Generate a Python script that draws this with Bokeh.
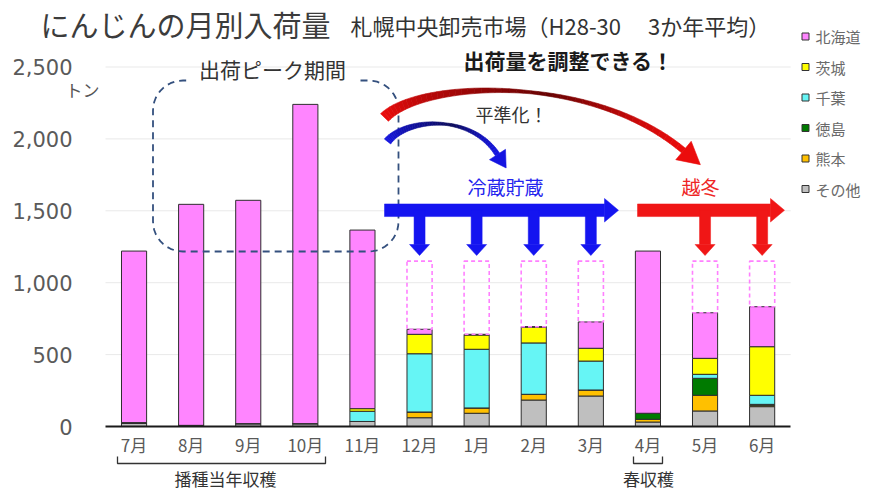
import numpy as np
from bokeh.plotting import figure
from bokeh.models import (Range1d, FixedTicker, NumeralTickFormatter, Label,
                          ColumnDataSource)
from bokeh.core.properties import value
from bokeh.embed import file_html
from bokeh.resources import INLINE

# ---------------- data (tons) ----------------
months = ["7月", "8月", "9月", "10月", "11月", "12月", "1月", "2月", "3月", "4月", "5月", "6月"]
sonota    = [22, 8, 20, 20, 35, 61, 92, 184, 212, 31, 108, 138]
kumamoto  = [0, 0, 0, 0, 0, 40, 37, 40, 42, 19, 109, 10]
tokushima = [5, 0, 0, 0, 0, 0, 0, 0, 0, 42, 118, 6]
chiba     = [0, 0, 0, 0, 71, 405, 408, 357, 201, 0, 28, 63]
ibaraki   = [0, 0, 0, 0, 18, 135, 99, 110, 89, 0, 111, 338]
hokkaido  = [1193, 1537, 1553, 2220, 1242, 35, 5, 3, 183, 1128, 317, 278]

series_names = ["その他", "熊本", "徳島", "千葉", "茨城", "北海道"]      # bottom -> top
series_colors = ["#BFBFBF", "#FFC000", "#007A00", "#66F5F5", "#FFFF00", "#FF85FF"]

storage_months = ["12月", "1月", "2月", "3月", "5月", "6月"]
storage_level = [1150, 1150, 1150, 1150, 1150, 1150]

y_ticks = [0, 500, 1000, 1500, 2000, 2500]

# ---------------- layout constants ----------------
W, H = 880, 493
FL, FB = 105, 426            # where the axes sit (px)
CAT_PX = 57.1                # px per month
TON_PX = 359.5 / 2500        # px per ton
JP = "Noto Sans CJK JP"


def dx(px):
    return (px - FL) / CAT_PX


def dy(py):
    return (FB - py) / TON_PX


def to_data(pts):
    pts = np.asarray(pts, float)
    return list(dx(pts[:, 0])), list(dy(pts[:, 1]))


xs = [i + 0.5 for i in range(len(months))]
pos = dict(zip(months, xs))
values = [sonota, kumamoto, tokushima, chiba, ibaraki, hokkaido]
src = ColumnDataSource(dict(x=xs, **{n: v for n, v in zip(series_names, values)}))
totals = [sum(c) for c in zip(*values)]

p = figure(width=W, height=H, title=None,
           x_range=Range1d(dx(0), dx(W)), y_range=Range1d(dy(H), dy(0)),
           output_backend="svg", toolbar_location=None,
           min_border=0, min_border_left=0, min_border_right=0,
           min_border_top=0, min_border_bottom=0)
p.outline_line_color = None
p.background_fill_color = "white"
p.border_fill_color = "white"
p.xgrid.visible = False
p.ygrid.visible = False

# faint gridlines
p.segment(x0=0, x1=len(months), y0=y_ticks[1:], y1=y_ticks[1:],
          line_color="#E9E9E9", line_width=1)

# axes (drawn at fixed data locations so the whole canvas is the plot frame)
p.xaxis.fixed_location = 0
p.xaxis.ticker = FixedTicker(ticks=xs)
p.xaxis.major_label_overrides = {x: m for x, m in zip(xs, months)}
p.xaxis.bounds = (0, len(months))
p.xaxis.axis_line_color = "#1a1a1a"
p.xaxis.axis_line_width = 2
p.xaxis.major_tick_line_color = None
p.xaxis.minor_tick_line_color = None
p.xaxis.major_tick_out = 0
p.xaxis.major_tick_in = 0
p.xaxis.minor_tick_out = 0
p.xaxis.major_label_text_font = JP
p.xaxis.major_label_text_font_size = "17px"
p.xaxis.major_label_text_color = "#595959"
p.xaxis.major_label_standoff = 5

p.yaxis.fixed_location = 0
p.yaxis.ticker = FixedTicker(ticks=y_ticks)
p.yaxis.formatter = NumeralTickFormatter(format="0,0")
p.yaxis.bounds = (0, 2500)
p.yaxis.axis_line_color = None
p.yaxis.major_tick_line_color = None
p.yaxis.minor_tick_line_color = None
p.yaxis.major_tick_out = 0
p.yaxis.major_tick_in = 0
p.yaxis.minor_tick_out = 0
p.yaxis.major_label_text_font = "DejaVu Sans"
p.yaxis.major_label_text_font_size = "21px"
p.yaxis.major_label_text_color = "#5a5a5a"
p.yaxis.major_label_standoff = 33

# stacked bars
p.vbar_stack(series_names, x="x", width=0.44, source=src,
             fill_color=series_colors, line_color="#2e2e2e", line_width=1)

# dashed "flattened" boxes
st_x = [pos[m] for m in storage_months]
st_bottom = [totals[months.index(m)] for m in storage_months]
p.vbar(x=st_x, bottom=st_bottom, top=storage_level, width=0.44,
       fill_color=None, line_color="#FF80FF", line_width=1.6, line_dash="4 3")

# ---------------- legend (right side) ----------------
leg_y0, leg_step = 36, 30.5
for k, (name, col) in enumerate(zip(series_names[::-1], series_colors[::-1])):
    py = leg_y0 + k * leg_step
    p.scatter(x=[dx(805)], y=[dy(py)], marker="square", size=7,
              fill_color=col, line_color="#333333", line_width=1)
    p.add_layout(Label(x=dx(815), y=dy(py), text=name, text_font=JP,
                       text_font_size="15px", text_color="#6a6a6a",
                       text_baseline="middle", text_align="left"))


# ---------------- titles & texts ----------------
def lab(px, py, text, size, color, align="center", style="normal"):
    p.add_layout(Label(x=dx(px), y=dy(py), text=text, text_font=JP,
                       text_font_size=size, text_color=color,
                       text_align=align, text_baseline="middle",
                       text_font_style=style))


lab(40, 23, "にんじんの月別入荷量", "29px", "#3c3c3c", align="left")
lab(350, 24, "札幌中央卸売市場（H28-30　 3か年平均）", "22px", "#333333", align="left")
lab(82, 89, "トン", "17px", "#555555")
lab(272, 68, "出荷ピーク期間", "21px", "#333333")
lab(568, 59, "出荷量を調整できる！", "21px", "#1a1a1a", style="bold")
lab(511, 113, "平準化！", "18px", "#333333")
lab(505, 186, "冷蔵貯蔵", "19px", "#2525EE")
lab(700, 186, "越冬", "19px", "#EE2525")
lab(225, 478, "播種当年収穫", "17px", "#333333")
lab(648, 478, "春収穫", "17px", "#333333")

# brackets below the axis
br_x, br_y = [], []
for (x0, x1) in [(117, 325), (633, 662)]:
    a, b = to_data([(x0, 456), (x0, 463), (x1, 463), (x1, 456)])
    br_x.append(a)
    br_y.append(b)
p.multi_line(br_x, br_y, line_color="#333333", line_width=1.3)


# ---------------- dashed rounded rectangle (peak period) ----------------
def rounded_path(l, r, t, b, rad, gap0, gap1, n=12):
    pts = [(gap1, t), (r - rad, t)]
    ang = np.linspace(-np.pi / 2, 0, n)
    pts += [(r - rad + rad * np.cos(a), t + rad + rad * np.sin(a)) for a in ang]
    pts += [(r, b - rad)]
    ang = np.linspace(0, np.pi / 2, n)
    pts += [(r - rad + rad * np.cos(a), b - rad + rad * np.sin(a)) for a in ang]
    pts += [(l + rad, b)]
    ang = np.linspace(np.pi / 2, np.pi, n)
    pts += [(l + rad + rad * np.cos(a), b - rad + rad * np.sin(a)) for a in ang]
    pts += [(l, t + rad)]
    ang = np.linspace(np.pi, 1.5 * np.pi, n)
    pts += [(l + rad + rad * np.cos(a), t + rad + rad * np.sin(a)) for a in ang]
    pts += [(gap0, t)]
    return pts


bx, by = to_data(rounded_path(152.5, 398, 80, 251, 30, 186, 360))
p.line(bx, by, line_color="#34507E", line_width=1.8, line_dash="7 5")


# ---------------- tapered gradient arcs ----------------
def bez(P, t):
    t = t[:, None]
    return ((1 - t) ** 3) * P[0] + 3 * ((1 - t) ** 2) * t * P[1] + 3 * (1 - t) * t ** 2 * P[2] + t ** 3 * P[3]


def dbez(P, t):
    t = t[:, None]
    return 3 * ((1 - t) ** 2) * (P[1] - P[0]) + 6 * (1 - t) * t * (P[2] - P[1]) + 3 * t ** 2 * (P[3] - P[2])


def tapered_arc(P, widths, base, dark, head_len, head_w, n=50):
    P = np.array(P, float)
    t = np.linspace(0, 1, n)
    B = bez(P, t)
    T = dbez(P, t)
    T = T / np.linalg.norm(T, axis=1)[:, None]
    N = np.stack([-T[:, 1], T[:, 0]], 1)
    w = np.interp(t, [0, 0.55, 1], widths)
    Lp = B + N * w[:, None] / 2
    Rp = B - N * w[:, None] / 2
    pxs, pys, cols = [], [], []
    base = np.array(base, float)
    dark = np.array(dark, float)
    for i in range(n - 1):
        q = [Lp[i], Lp[i + 1], Rp[i + 1], Rp[i]]
        qx, qy = to_data(q)
        pxs.append(qx)
        pys.append(qy)
        tm = (t[i] + t[i + 1]) / 2
        d = np.interp(tm, [0, 0.3, 0.6, 0.85, 1], [0, 0.4, 0.8, 0.2, 0])
        c = base * (1 - d) + dark * d
        cols.append("#%02x%02x%02x" % tuple(int(round(v)) for v in c))
    e, tv, nv = B[-1], T[-1], N[-1]
    tri = [e + nv * head_w / 2, e + tv * head_len, e - nv * head_w / 2]
    qx, qy = to_data(tri)
    pxs.append(qx)
    pys.append(qy)
    cols.append("#%02x%02x%02x" % tuple(int(v) for v in base))
    p.patches(pxs, pys, fill_color=cols, line_color=cols, line_width=0.6)


tapered_arc([(384, 117), (420, 80), (590, 72), (683, 150)], [11, 3, 6],
            (235, 12, 12), (70, 0, 0), 22, 24)
tapered_arc([(387, 141), (405, 118), (470, 112), (497, 154)], [8, 2.5, 5],
            (20, 20, 225), (10, 10, 55), 16, 19)


# ---------------- T-shaped distribution arrows ----------------
def t_arrow(x0, x1, targets, color):
    shapes = []
    yc, hs = 209.75, 6.3
    shapes.append([(x0, yc - hs), (x1, yc - hs), (x1, yc + hs), (x0, yc + hs)])
    shapes.append([(x1, 198), (x1 + 14, yc), (x1, 221.5)])
    for m in targets:
        cx = FL + pos[m] * CAT_PX
        shapes.append([(cx - 5.5, yc), (cx + 5.5, yc), (cx + 5.5, 244), (cx - 5.5, 244)])
        shapes.append([(cx - 10, 244), (cx + 10, 244), (cx, 255)])
    sx, sy = [], []
    for s in shapes:
        a, b = to_data(s)
        sx.append(a)
        sy.append(b)
    p.patches(sx, sy, fill_color=color, line_color=color, line_width=0.5)


t_arrow(384, 604, ["12月", "1月", "2月", "3月"], "#1414F0")
t_arrow(637, 770, ["5月", "6月"], "#F01616")

open("out.html", "w").write(file_html(p, INLINE))
